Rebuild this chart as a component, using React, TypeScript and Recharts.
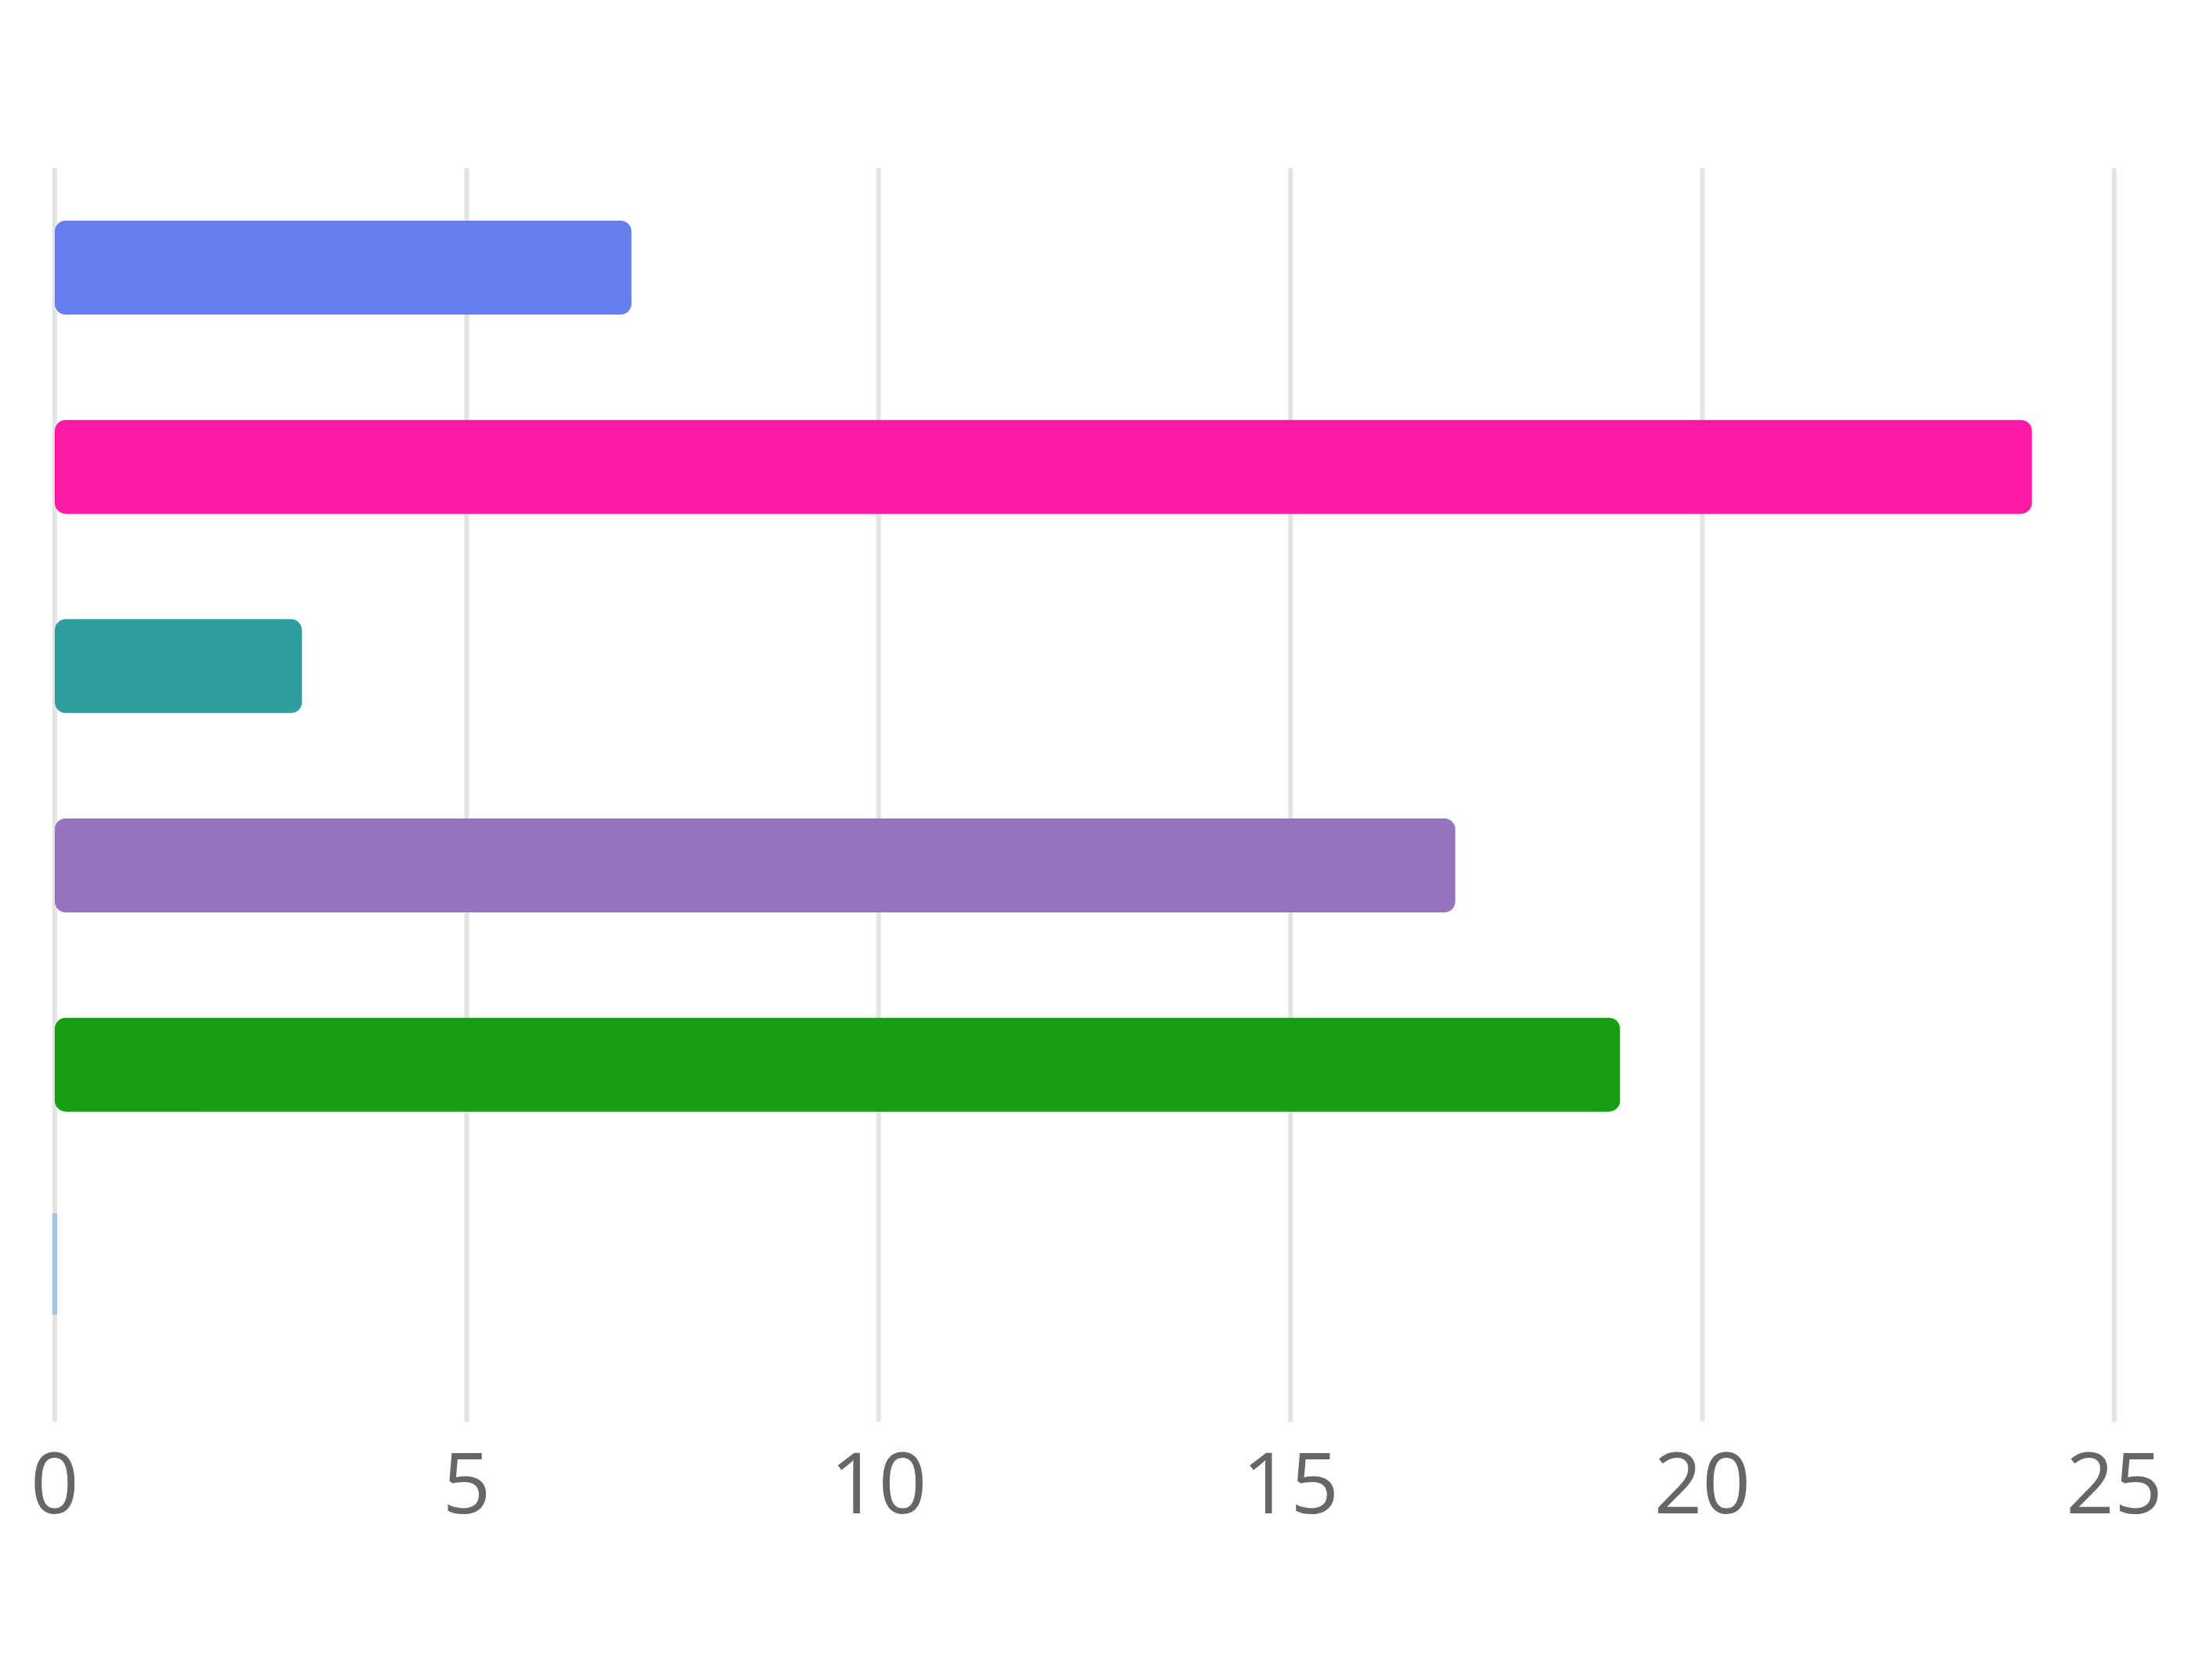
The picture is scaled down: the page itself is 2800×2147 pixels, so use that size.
import { BarChart, Bar, XAxis, YAxis, CartesianGrid, Cell } from "recharts";

const categories = ["A", "B", "C", "D", "E", "F"];
const values = [7, 24, 3, 17, 19, 0];
const colors = ["#657eeb", "#ff1aa5", "#2e9e9e", "#9474be", "#189e12", "#a3c6e6"];
const xTicks = [0, 5, 10, 15, 20, 25];

const data = categories.map((name, i) => ({ name, value: values[i] }));

// zero-value bars still show a thin sliver, like the source
const BarShape = (props: any) => {
  const { x, y, width, height, fill } = props;
  if (!width || width < 1) {
    return <rect x={x - 3} y={y - 5} width={6} height={height + 10} fill={fill} />;
  }
  const r = 14;
  return <rect x={x} y={y} width={width} height={height} rx={r} ry={r} fill={fill} />;
};

export default function App() {
  return (
    <div style={{ margin: -8, background: "#fff" }}>
      <BarChart
        layout="vertical"
        width={2800}
        height={2147}
        data={data}
        margin={{ top: 215, left: 70, right: 98, bottom: 0 }}
        barSize={120}
      >
        <CartesianGrid horizontal={false} stroke="#e4e4e4" strokeWidth={6} />
        <XAxis
          type="number"
          domain={[0, 25]}
          ticks={xTicks}
          axisLine={false}
          tickSize={74}
          tickLine={{ stroke: "#e4e4e4", strokeWidth: 6 }}
          tickMargin={40}
          height={404}
          interval={0}
          tick={{ fill: "#666", fontSize: 108, fontFamily: "Open Sans" }}
        />
        <YAxis
          type="category"
          dataKey="name"
          width={0}
          tick={false}
          tickLine={false}
          axisLine={{ stroke: "#d0d0d0", strokeWidth: 6 }}
        />
        <Bar dataKey="value" isAnimationActive={false} shape={BarShape}>
          {data.map((d, i) => (
            <Cell key={d.name} fill={colors[i]} />
          ))}
        </Bar>
      </BarChart>
    </div>
  );
}
